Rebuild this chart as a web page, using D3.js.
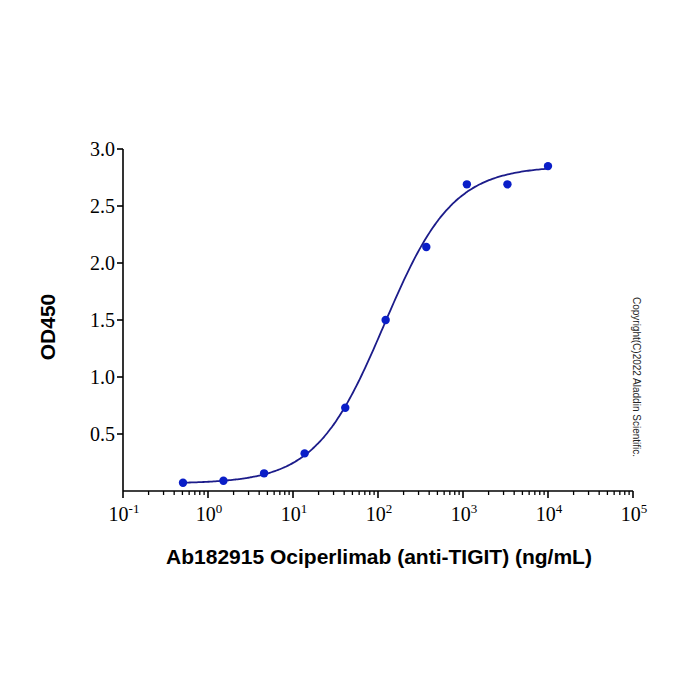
<!DOCTYPE html>
<html>
<head>
<meta charset="utf-8">
<script src="https://cdn.jsdelivr.net/npm/d3@7"></script>
<style>
  body { margin: 0; background: #fff; }
</style>
</head>
<body>
<script>
// measured points (3-fold dilution series)
const conc = [0.508, 1.52, 4.57, 13.7, 41.2, 123, 370, 1111, 3333, 10000];
const od = [0.073, 0.09, 0.155, 0.33, 0.73, 1.50, 2.14, 2.69, 2.69, 2.85];

// 4PL fit
const fitBottom = 0.065;
const fitTop = 2.85;
const fitEC50 = 118;
const fitHill = 1.08;

const yTicks = [0.5, 1.0, 1.5, 2.0, 2.5, 3.0];
const xExponents = [-1, 0, 1, 2, 3, 4, 5];

const width = 700, height = 700;

const x = d3.scaleLog().domain([0.1, 1e5]).range([123, 633]);
const y = d3.scaleLinear().domain([0, 3]).range([491, 149]);

const svg = d3.select('body').append('svg')
  .attr('width', width)
  .attr('height', height);

// y axis
svg.append('line')
  .attr('x1', x(0.1)).attr('x2', x(0.1))
  .attr('y1', y(0)).attr('y2', y(3))
  .attr('stroke', '#000').attr('stroke-width', 1.6);

svg.selectAll('.ytick').data(yTicks).enter()
  .append('line')
  .attr('x1', x(0.1) - 6).attr('x2', x(0.1))
  .attr('y1', d => y(d)).attr('y2', d => y(d))
  .attr('stroke', '#000').attr('stroke-width', 1.6);

svg.selectAll('.ylab').data(yTicks).enter()
  .append('text')
  .attr('x', x(0.1) - 8)
  .attr('y', d => y(d) + 7)
  .attr('text-anchor', 'end')
  .attr('font-family', 'Liberation Serif, serif')
  .attr('font-size', 20)
  .text(d => d.toFixed(1));

// x axis
svg.append('line')
  .attr('x1', x(0.1)).attr('x2', x(1e5))
  .attr('y1', y(0)).attr('y2', y(0))
  .attr('stroke', '#000').attr('stroke-width', 1.6);

let minor = [];
for (let e = -1; e < 5; e++) {
  for (let m = 2; m <= 9; m++) minor.push(m * Math.pow(10, e));
}
svg.selectAll('.xminor').data(minor).enter()
  .append('line')
  .attr('x1', d => x(d)).attr('x2', d => x(d))
  .attr('y1', y(0)).attr('y2', y(0) + 4)
  .attr('stroke', '#000').attr('stroke-width', 1.3);

svg.selectAll('.xmajor').data(xExponents).enter()
  .append('line')
  .attr('x1', d => x(Math.pow(10, d))).attr('x2', d => x(Math.pow(10, d)))
  .attr('y1', y(0)).attr('y2', y(0) + 7)
  .attr('stroke', '#000').attr('stroke-width', 1.6);

let xl = svg.selectAll('.xlab').data(xExponents).enter()
  .append('text')
  .attr('x', d => x(Math.pow(10, d)) + 1)
  .attr('y', 521)
  .attr('text-anchor', 'middle')
  .attr('font-family', 'Liberation Serif, serif')
  .attr('font-size', 20);
xl.append('tspan').text('10');
xl.append('tspan')
  .attr('dy', -8)
  .attr('font-size', 13)
  .text(d => d);

// fitted curve
const curveX = d3.range(Math.log10(conc[0]), Math.log10(conc[conc.length - 1]) + 0.001, 0.02)
  .map(l => Math.pow(10, l));
const fit = c => fitBottom + (fitTop - fitBottom) / (1 + Math.pow(fitEC50 / c, fitHill));

svg.append('path')
  .datum(curveX)
  .attr('fill', 'none')
  .attr('stroke', '#1c1c8a')
  .attr('stroke-width', 1.8)
  .attr('d', d3.line().x(d => x(d)).y(d => y(fit(d))).curve(d3.curveBasis));

// points
svg.selectAll('.pt').data(conc).enter()
  .append('circle')
  .attr('cx', d => x(d))
  .attr('cy', (d, i) => y(od[i]))
  .attr('r', 4.2)
  .attr('fill', '#0a1ec8');

// titles
svg.append('text')
  .attr('x', 379).attr('y', 564)
  .attr('text-anchor', 'middle')
  .attr('font-family', 'Liberation Sans, Arial, sans-serif')
  .attr('font-weight', 'bold')
  .attr('font-size', 21)
  .text('Ab182915 Ociperlimab (anti-TIGIT) (ng/mL)');

svg.append('text')
  .attr('transform', 'translate(55,327) rotate(-90)')
  .attr('text-anchor', 'middle')
  .attr('font-family', 'Liberation Sans, Arial, sans-serif')
  .attr('font-weight', 'bold')
  .attr('font-size', 21)
  .text('OD450');

svg.append('text')
  .attr('transform', 'translate(633,377) rotate(90)')
  .attr('text-anchor', 'middle')
  .attr('font-family', 'Liberation Sans, Arial, sans-serif')
  .attr('font-size', 10)
  .attr('fill', '#222')
  .text('Copyright(C)2022 Aladdin Scientific.');
</script>
</body>
</html>
